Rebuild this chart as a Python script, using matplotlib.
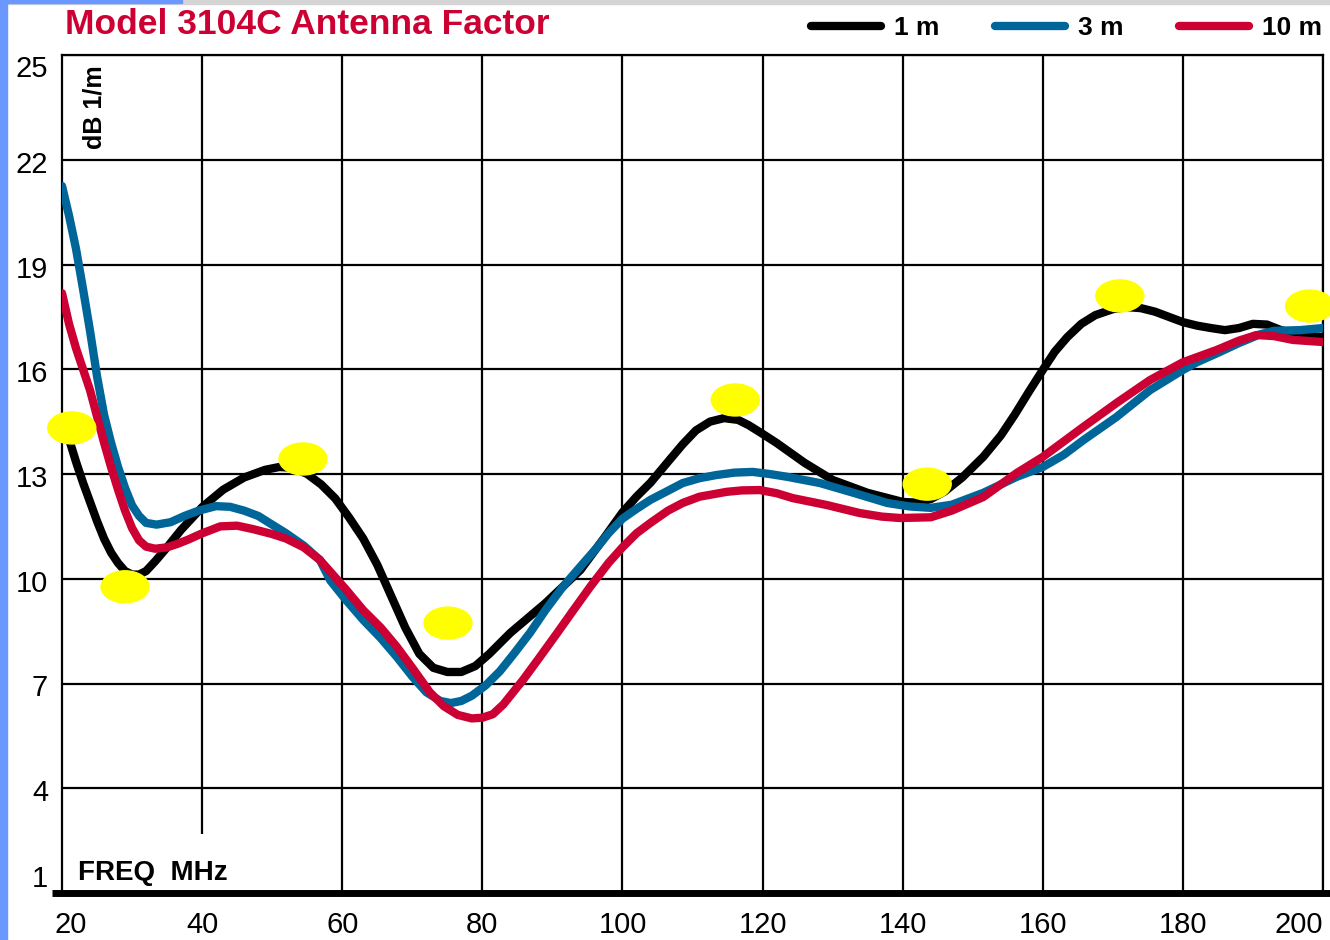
import matplotlib
matplotlib.use('Agg')
import matplotlib.pyplot as plt
from matplotlib.patches import Ellipse, Rectangle
from matplotlib.lines import Line2D
from matplotlib.transforms import ScaledTranslation

# ---------------------------------------------------------------
# data (freq in MHz, antenna factor in dB 1/m)
# ---------------------------------------------------------------
f_1m = [20, 21, 22, 23, 24, 25, 26, 27, 28, 29, 30, 31, 32, 33.3, 35, 37, 40,
        43, 46, 49, 51, 53, 55, 57, 59, 61, 63, 65, 67, 69, 71, 73, 75, 77, 79,
        81, 84, 89, 94, 97.5, 100, 102, 104, 106.5, 108.6, 110.5, 112.5, 114.5,
        116.5, 118, 120, 122, 126, 130, 135, 140, 142, 144, 146, 148.5, 151.5,
        154, 156, 158, 160, 161.7, 163.5, 165.5, 167.5, 170, 172, 174, 176, 178,
        180, 182, 184, 186, 188, 190, 192, 194, 197, 200]
af_1m = [14.6, 14.0, 13.35, 12.75, 12.2, 11.65, 11.15, 10.75, 10.45, 10.22,
         10.12, 10.12, 10.22, 10.5, 10.9, 11.4, 12.05, 12.55, 12.9, 13.12, 13.2,
         13.18, 13.0, 12.7, 12.3, 11.75, 11.15, 10.4, 9.5, 8.6, 7.85, 7.45, 7.33,
         7.33, 7.5, 7.85, 8.45, 9.3, 10.25, 11.2, 11.9, 12.35, 12.75, 13.35,
         13.85, 14.25, 14.5, 14.6, 14.55, 14.4, 14.15, 13.89, 13.32, 12.83, 12.46,
         12.2, 12.18, 12.28, 12.5, 12.9, 13.49, 14.1, 14.7, 15.35, 15.98, 16.5,
         16.92, 17.3, 17.55, 17.72, 17.78, 17.75, 17.65, 17.5, 17.35, 17.25,
         17.18, 17.12, 17.18, 17.3, 17.28, 17.12, 16.98, 16.92]

f_3m = [20, 21, 22, 23, 24, 25, 26, 27, 28, 29, 30, 31, 32, 33.5, 35.5, 37.5,
        39.5, 42, 44, 46, 48, 50, 52, 54.5, 56.8, 58.3, 60.5, 63, 65.5, 67.8, 70,
        72, 74, 75.5, 77, 78.5, 80.5, 82.5, 84.5, 86.8, 89, 91.5, 94, 96.4, 98,
        100, 102, 104, 106.5, 108.6, 111, 113.4, 116, 118.6, 121, 123.5, 128.2,
        133, 137.8, 141, 144, 147, 151.5, 156.3, 160, 163, 165.8, 170.5, 175.3,
        180, 182, 185, 188, 191, 193, 196.7, 200]
af_3m = [21.25, 20.4, 19.45, 18.3, 17.1, 15.8, 14.7, 13.9, 13.2, 12.6, 12.1,
         11.8, 11.6, 11.55, 11.62, 11.8, 11.95, 12.08, 12.06, 11.95, 11.8, 11.55,
         11.3, 10.95, 10.54, 9.95, 9.4, 8.82, 8.3, 7.76, 7.2, 6.75, 6.5, 6.44, 6.5,
         6.65, 6.95, 7.35, 7.85, 8.45, 9.1, 9.77, 10.35, 10.9, 11.3, 11.72, 12.0,
         12.26, 12.52, 12.74, 12.88, 12.97, 13.04, 13.06, 13.0, 12.92, 12.74,
         12.46, 12.17, 12.07, 12.03, 12.12, 12.46, 12.92, 13.2, 13.55, 13.97,
         14.63, 15.4, 15.98, 16.2, 16.47, 16.75, 17.0, 17.1, 17.12, 17.18]

f_10m = [20, 21, 22, 23, 24, 25, 26, 27, 28, 29, 30, 31, 32, 33.3, 35, 36.5, 38,
         40, 42.6, 45, 47.3, 50, 52, 54.5, 56.8, 58.3, 60.5, 63, 65.5, 67.8, 70,
         72.5, 74.5, 76.5, 78.5, 80, 81.5, 83, 85.8, 88, 90.7, 93, 95.4, 98, 100,
         102, 104, 106.5, 108.6, 111, 114.9, 117, 119.6, 122, 124.3, 129.2, 133.9,
         137, 139.6, 144, 147, 151.5, 156.3, 160, 165.8, 170.5, 175.3, 180, 184.8,
         188, 190.5, 193, 195.7, 200]
af_10m = [18.18, 17.3, 16.6, 16.0, 15.4, 14.65, 13.9, 13.2, 12.55, 11.95, 11.45,
          11.1, 10.92, 10.86, 10.9, 11.0, 11.12, 11.3, 11.5, 11.52, 11.42, 11.28,
          11.15, 10.9, 10.54, 10.2, 9.7, 9.1, 8.6, 8.05, 7.45, 6.75, 6.35, 6.1,
          6.0, 6.02, 6.12, 6.4, 7.1, 7.7, 8.45, 9.1, 9.77, 10.45, 10.9, 11.3, 11.6,
          11.95, 12.17, 12.35, 12.49, 12.53, 12.54, 12.45, 12.31, 12.11, 11.88,
          11.78, 11.74, 11.76, 11.95, 12.34, 13.03, 13.49, 14.35, 15.03, 15.69,
          16.2, 16.55, 16.82, 16.98, 16.95, 16.84, 16.78]

# yellow highlight spots
mark_f = [21.4, 29.0, 54.4, 75.1, 116.1, 143.5, 171.0, 198.1]
mark_af = [14.32, 9.77, 13.43, 8.73, 15.12, 12.71, 18.1, 17.81]

x_ticks = [20, 40, 60, 80, 100, 120, 140, 160, 180, 200]
y_ticks = [1, 4, 7, 10, 13, 16, 19, 22, 25]

series = [('1 m', f_1m, af_1m, '#000000'),
          ('3 m', f_3m, af_3m, '#006699'),
          ('10 m', f_10m, af_10m, '#cc0033')]

plt.rcParams['font.family'] = ['Liberation Sans', 'DejaVu Sans']

W, H = 1330, 940
fig = plt.figure(figsize=(W / 100, H / 100), dpi=100)
fig.patch.set_facecolor('white')
ax = fig.add_axes([62 / W, 1 - 893 / H, 1261 / W, 838 / H])

# page decoration (blue bar on the left, gray strip at the top)
fig.patches.append(Rectangle((0, 1 - 4 / H), 1, 4 / H, transform=fig.transFigure,
                             color='#d4d4d4', zorder=0))
fig.patches.append(Rectangle((0, 1 - 3 / H), 182 / W, 3 / H, transform=fig.transFigure,
                             color='#6b98ff', zorder=1))
fig.patches.append(Rectangle((0, 0), 7 / W, 1, transform=fig.transFigure,
                             color='#6b98ff', zorder=1))

ax.set_xlim(20, 200)
ax.set_ylim(1, 25)

# grid
ax.set_yticks(y_ticks)
ax.set_yticklabels([str(v) for v in y_ticks])
ax.set_xticks(x_ticks)
ax.set_xticklabels([str(v) for v in x_ticks])
ax.grid(axis='y', color='black', lw=1.6, zorder=1)
for xv in x_ticks[1:]:
    lo = 2.7 if xv == 40 else 1
    ax.vlines(xv, lo, 25, color='black', lw=1.6, zorder=1)

for s in ['left', 'top', 'right']:
    ax.spines[s].set_linewidth(1.6)
ax.spines['bottom'].set_visible(False)
ax.plot([-10 / 1261, 1.01], [0, 0], transform=ax.transAxes, color='black',
        lw=5, clip_on=False, solid_capstyle='butt', zorder=3)

ax.tick_params(length=0, labelsize=21)
ax.tick_params(axis='y', pad=10)
ax.tick_params(axis='x', pad=13)

ylabs = ax.get_yticklabels()
ylabs[0].set_va('bottom')
ylabs[-1].set_va('top')
for lab in ylabs[1:-1]:
    lab.set_transform(lab.get_transform() + ScaledTranslation(0, -0.02, fig.dpi_scale_trans))
xlabs = ax.get_xticklabels()
xlabs[0].set_transform(xlabs[0].get_transform() + ScaledTranslation(0.09, 0, fig.dpi_scale_trans))
xlabs[-1].set_ha('right')

# curves
for name, fx, fy, col in series:
    ax.plot(fx, fy, color=col, lw=6, solid_joinstyle='round',
            solid_capstyle='round', zorder=4)

# yellow spots
ew = 48 * 180 / 1261
eh = 32 * 24 / 838
for fx, fy in zip(mark_f, mark_af):
    ax.add_patch(Ellipse((fx, fy), ew, eh, color='#ffff00', zorder=6, clip_on=False))

# labels
ax.text(16 / 1261, 13 / 838, 'FREQ  MHz', transform=ax.transAxes, fontsize=20,
        fontweight='bold', ha='left', va='baseline')
ax.text(33 / 1261, (893 - 107) / 838, 'dB 1/m', transform=ax.transAxes, fontsize=18,
        fontweight='bold', rotation=90, ha='center', va='center')

fig.text(65 / W, 1 - 24 / H, 'Model 3104C Antenna Factor', color='#cc0033',
         fontsize=25.5, fontweight='bold', ha='left', va='center')

handles = [Line2D([], [], color=c, lw=6, solid_capstyle='round') for _, _, _, c in series]
fig.legend(handles, [n for n, _, _, _ in series], loc='center right',
           bbox_to_anchor=(1322 / W, 1 - 28 / H), ncol=3, frameon=False,
           prop=dict(weight='bold', size=19), handlelength=2.65, handletextpad=0.5,
           columnspacing=2.1, borderpad=0, borderaxespad=0)

fig.savefig('out.png', dpi=100)
